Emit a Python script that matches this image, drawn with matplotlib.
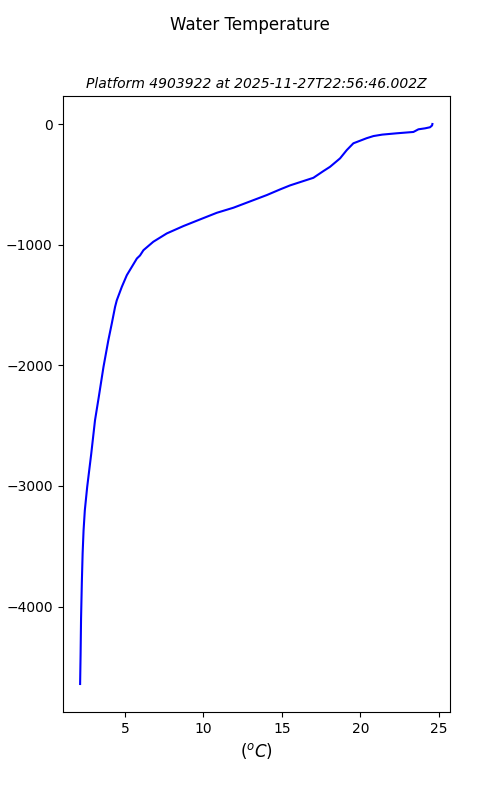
import matplotlib
matplotlib.use("Agg")
import matplotlib.pyplot as plt

# temperature profile (degC vs depth in m)
temperature = [24.60, 24.58, 24.45, 24.13, 23.71, 23.39, 22.33, 21.40, 20.84, 20.40,
               20.10, 19.56, 19.14, 18.71, 18.07, 17.65, 17.01, 16.37, 15.52, 14.89,
               14.04, 11.91, 10.85, 9.78, 8.72, 7.66, 6.80, 6.17, 5.95, 5.75,
               5.43, 5.11, 4.79, 4.47, 4.36, 4.15, 3.93, 3.62, 3.32, 3.08,
               2.84, 2.58, 2.43, 2.35, 2.29, 2.24, 2.19, 2.16, 2.13]
depth = [0, -12, -27, -36, -44, -66, -77, -88, -100, -118,
         -133, -160, -216, -285, -355, -390, -446, -473, -509, -542,
         -589, -694, -736, -791, -846, -907, -976, -1046, -1090, -1115,
         -1184, -1253, -1350, -1461, -1516, -1654, -1793, -2014, -2263, -2456,
         -2733, -3010, -3203, -3369, -3560, -3800, -4100, -4400, -4642]

platform = "4903922"
timestamp = "2025-11-27T22:56:46.002Z"

fig, ax = plt.subplots(figsize=(5, 8), dpi=100)
fig.suptitle("Water Temperature")
ax.plot(temperature, depth, color="blue", linewidth=1.5)
ax.set_title(f"Platform {platform} at {timestamp}", fontsize=10, style="italic")
ax.set_xlabel("($^oC$)", fontsize=12)
ax.set_ylabel("depth (m)")

fig.savefig("out.png", dpi=100)
